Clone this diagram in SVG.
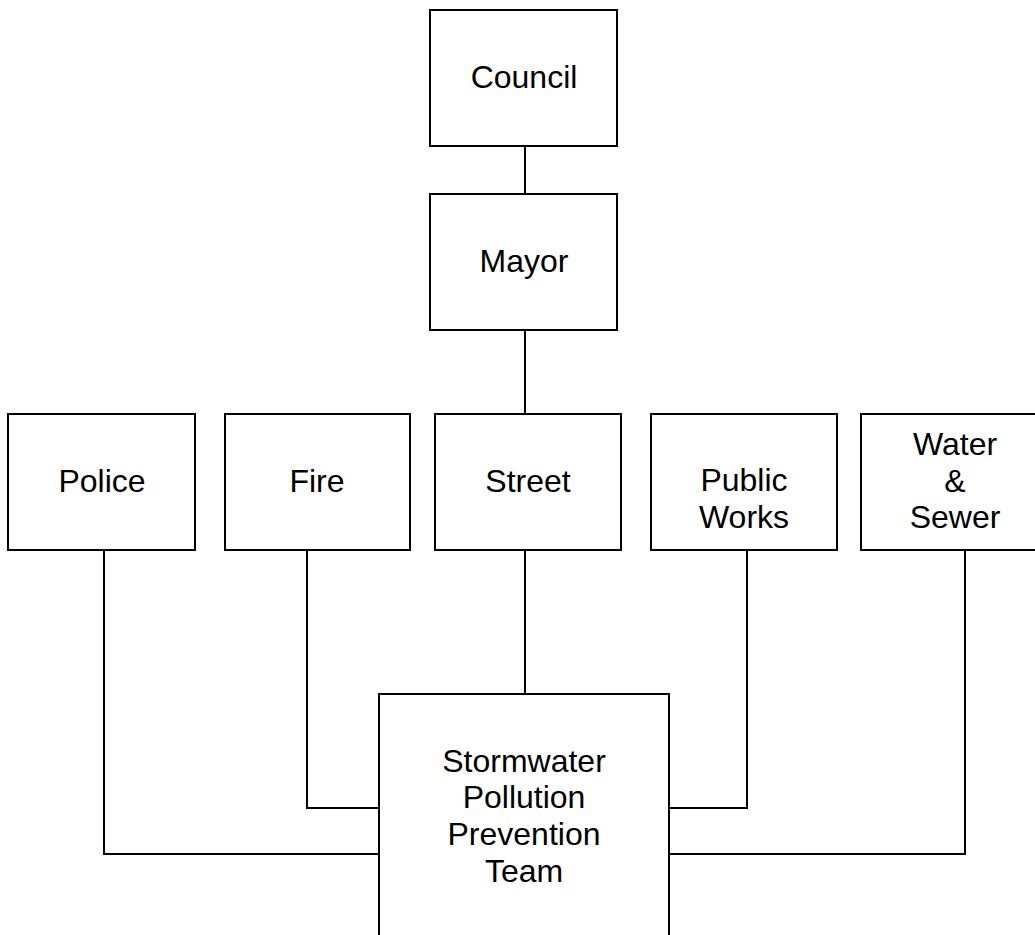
<svg xmlns="http://www.w3.org/2000/svg" width="1035" height="935" viewBox="0 0 1035 935">
<style>
.box{fill:#fff;stroke:#000;stroke-width:2}
.lbl{font-family:"Liberation Sans",Arial,sans-serif;font-size:32px;fill:#000;text-anchor:middle}
.conn{fill:none;stroke:#000;stroke-width:2}
</style>
<rect width="1035" height="935" fill="#fff"/>
<g id="connectors">
<line class="conn" x1="525" y1="146" x2="525" y2="194"/>
<line class="conn" x1="525" y1="330" x2="525" y2="414"/>
<line class="conn" x1="525" y1="550" x2="525" y2="694"/>
<polyline class="conn" points="307,550 307,808 379,808"/>
<polyline class="conn" points="747,550 747,808 669,808"/>
<polyline class="conn" points="104,550 104,854 379,854"/>
<polyline class="conn" points="965,550 965,854 669,854"/>
</g>
<g id="council"><rect class="box" x="430" y="10" width="187" height="136"/><text class="lbl" x="524" y="88">Council</text></g>
<g id="mayor"><rect class="box" x="430" y="194" width="187" height="136"/><text class="lbl" x="524" y="272">Mayor</text></g>
<g id="police"><rect class="box" x="8" y="414" width="187" height="136"/><text class="lbl" x="102" y="492">Police</text></g>
<g id="fire"><rect class="box" x="225" y="414" width="185" height="136"/><text class="lbl" x="317" y="492">Fire</text></g>
<g id="street"><rect class="box" x="435" y="414" width="186" height="136"/><text class="lbl" x="528" y="492">Street</text></g>
<g id="publicworks"><rect class="box" x="651" y="414" width="186" height="136"/><text class="lbl" x="744" y="491">Public</text><text class="lbl" x="744" y="528">Works</text></g>
<g id="watersewer"><rect class="box" x="861" y="414" width="186" height="136"/><text class="lbl" x="955" y="455">Water</text><text class="lbl" x="955" y="492">&amp;</text><text class="lbl" x="955" y="528">Sewer</text></g>
<g id="team"><rect class="box" x="379" y="694" width="290" height="260"/><text class="lbl" x="524" y="772">Stormwater</text><text class="lbl" x="524" y="808">Pollution</text><text class="lbl" x="524" y="845">Prevention</text><text class="lbl" x="524" y="882">Team</text></g>
</svg>
